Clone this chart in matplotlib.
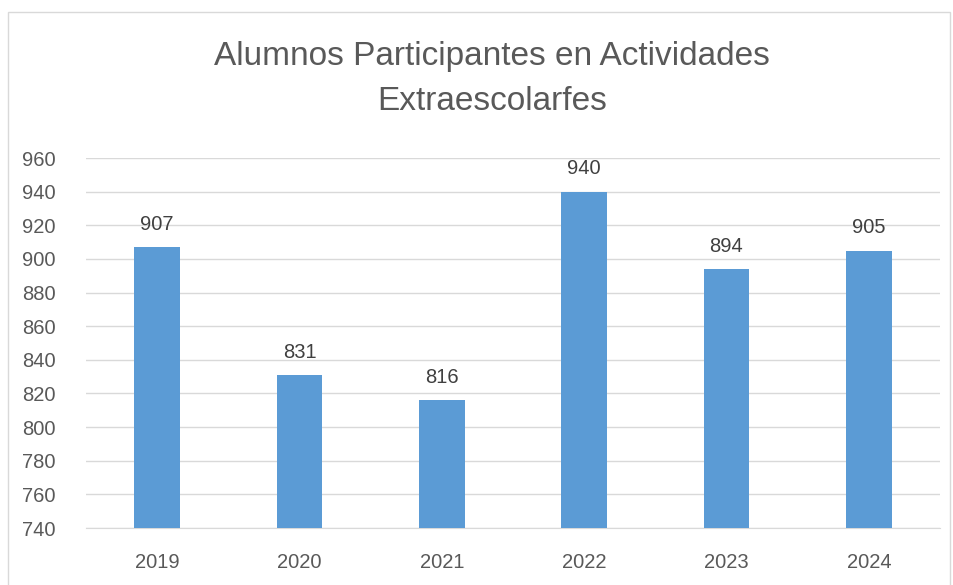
import matplotlib.pyplot as plt
from matplotlib.patches import Rectangle

years = ["2019", "2020", "2021", "2022", "2023", "2024"]
alumnos = [907, 831, 816, 940, 894, 905]

plt.rcParams["font.family"] = ["Liberation Sans", "DejaVu Sans"]

fig = plt.figure(figsize=(9.54, 5.85), dpi=100)
ax = fig.add_axes([86 / 954, 1 - 528 / 585, (940 - 86) / 954, (528 - 158) / 585])

x = range(len(years))
bars = ax.bar(x, alumnos, width=0.32, color="#5b9bd5", zorder=3)
for b, v in zip(bars, alumnos):
    ax.text(b.get_x() + b.get_width() / 2, v + 8, str(v), ha="center", va="bottom",
            fontsize=14.5, color="#404040")

ax.set_ylim(740, 960)
ax.set_yticks(range(740, 961, 20))
ax.set_xlim(-0.5, len(years) - 0.5)
ax.set_xticks(list(x))
ax.set_xticklabels(years)
ax.grid(axis="y", color="#d9d9d9", linewidth=1, zorder=0)
ax.tick_params(length=0, labelsize=14.5, colors="#595959", pad=18)
ax.tick_params(axis="y", pad=22)
for s in ["left", "right", "top"]:
    ax.spines[s].set_visible(False)
ax.spines["bottom"].set_color("#d9d9d9")

fig.text(492 / 954, 1 - 56 / 585, "Alumnos Participantes en Actividades", ha="center", va="center",
         fontsize=24, color="#595959")
fig.text(492 / 954, 1 - 101 / 585, "Extraescolarfes", ha="center", va="center",
         fontsize=24, color="#595959")

fig.add_artist(Rectangle((8 / 954, -0.01), (950 - 8) / 954, 1 - 12 / 585 + 0.01,
                         transform=fig.transFigure, fill=False, edgecolor="#d9d9d9", linewidth=1))

fig.savefig("out.png", dpi=100)
